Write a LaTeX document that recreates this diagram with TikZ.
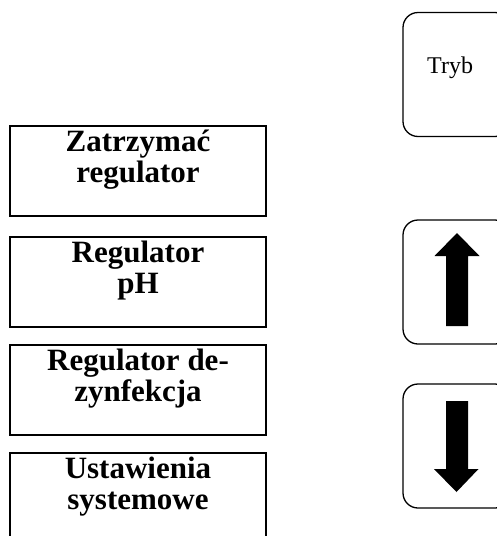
\documentclass[tikz,border=0pt]{standalone}
\usepackage{fontspec}
\setmainfont{Liberation Serif}
\usepackage{tikz}
\usetikzlibrary{positioning}

\begin{document}
\begin{tikzpicture}[x=1pt,y=-1pt,
  menubox/.style={draw,line width=1.8pt,minimum width=256pt,minimum height=90pt,inner sep=0pt},
  menutext/.style={anchor=north,align=center,inner sep=0pt,font=\bfseries\fontsize{31}{31}\selectfont},
  keybox/.style={draw,line width=1.3pt,rounded corners=15pt,minimum width=107pt,minimum height=124pt,inner sep=0pt},
  arrowfill/.style={fill=black}]
\useasboundingbox (0,0) rectangle (497,536);
% menu entries on the left
\node[menubox] (stop) at (138,171) {};
\node[menutext] (stoptxt) at ([yshift=-5pt]stop.north) {Zatrzyma\'c\\regulator};
\node[menubox] (ph) at (138,282) {};
\node[menutext] (phtxt) at ([yshift=-5pt]ph.north) {Regulator\\pH};
\node[menubox] (dez) at (138,390) {};
\node[menutext] (deztxt) at ([yshift=-5pt]dez.north) {Regulator de-\\zynfekcja};
\node[menubox] (sys) at (138,498) {};
\node[menutext] (systxt) at ([yshift=-5pt]sys.north) {Ustawienia\\systemowe};
% keys on the right
\node[keybox] (tryb) at (456.5,74.5) {};
\node[anchor=base west,inner sep=0pt,font=\fontsize{24}{26}\selectfont] (trybtxt) at (427,73) {Tryb};
\node[keybox] (up) at (456.5,282) {};
\fill[arrowfill,shift={(up.center)}] (0.5,-49) -- (23,-26) -- (11.5,-26) -- (11.5,44) -- (-10.5,44) -- (-10.5,-26) -- (-22,-26) -- cycle;
\node[keybox] (down) at (456.5,446) {};
\fill[arrowfill,shift={(down.center)}] (0,46) -- (22,23) -- (11.5,23) -- (11.5,-45) -- (-10.5,-45) -- (-10.5,23) -- (-22.5,23) -- cycle;
\end{tikzpicture}
\end{document}
